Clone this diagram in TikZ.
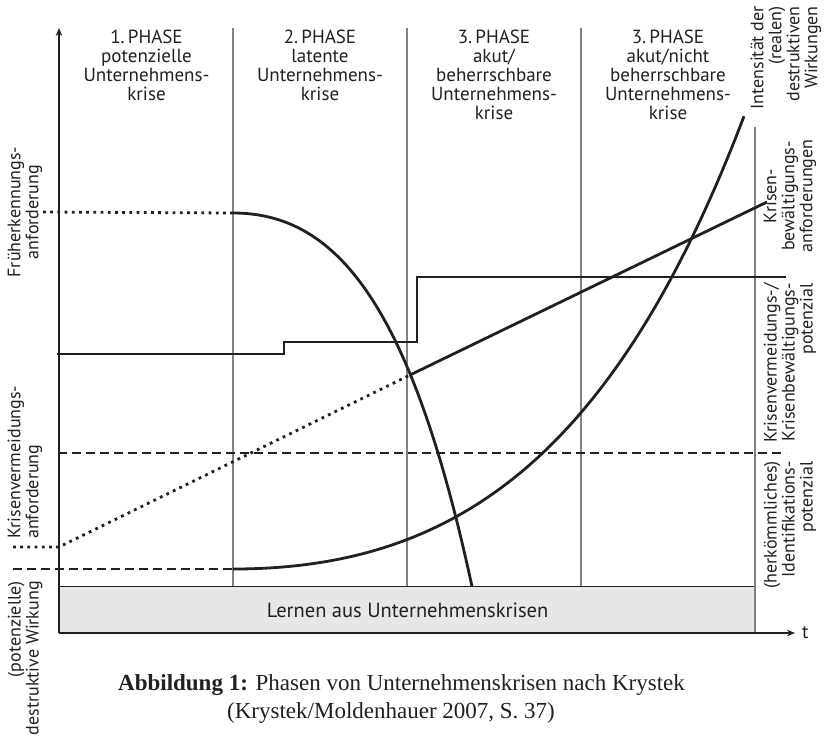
\documentclass[tikz,border=0pt]{standalone}
\usepackage{fontspec}
\setmainfont{PT Sans}
\newfontfamily\capfont{Liberation Serif}
\usetikzlibrary{arrows.meta}
\definecolor{ink}{HTML}{231F20}
\definecolor{phasegray}{HTML}{808285}
\definecolor{boxgray}{HTML}{E6E7E8}
\begin{document}
\begin{tikzpicture}[x=1pt,y=-1pt,
  every node/.style={text=ink, inner sep=0pt},
  lbl/.style={font=\fontsize{19}{19}\selectfont},
  rotlbl/.style={font=\fontsize{18}{18}\selectfont, rotate=90},
  axisline/.style={draw=ink, line width=1.4pt},
  phaseline/.style={draw=phasegray, line width=1.4pt},
  mainline/.style={draw=ink, line width=2.8pt},
  dotline/.style={draw=ink, line width=2.8pt, dash pattern=on 2.8pt off 4.4pt},
  dashline/.style={draw=ink, line width=2.8pt, dash pattern=on 9pt off 5pt},
  tip/.style={-{Stealth[length=8pt,width=6.5pt]}}
]
\useasboundingbox (0,0) rectangle (827,737);

% coordinates
\coordinate (O) at (59,633);
\coordinate (Ytop) at (59,28);
\coordinate (Xend) at (795,633);
\coordinate (P1t) at (233,28);  \coordinate (P1b) at (233,586);
\coordinate (P2t) at (407,28);  \coordinate (P2b) at (407,586);
\coordinate (P3t) at (581,28);  \coordinate (P3b) at (581,586);
\coordinate (P4t) at (755,127); \coordinate (P4b) at (755,633);

% grey box
\node[draw=ink, line width=1.2pt, fill=boxgray, minimum width=696pt, minimum height=47pt,
      anchor=north west, font=\fontsize{20.5}{20.5}\selectfont] (lern) at (59,586) {Lernen aus Unternehmenskrisen};

% phase lines
\draw[phaseline] (P1t) -- (P1b);
\draw[phaseline] (P2t) -- (P2b);
\draw[phaseline] (P3t) -- (P3b);
\draw[phaseline] (P4t) -- (P4b);

% axes
\draw[axisline, tip] (O) -- (Ytop);
\draw[axisline, tip] (O) -- (Xend);
\node[lbl, anchor=west] (t) at (802,633) {t};

% headers
\node[lbl, align=center, anchor=north] (h1) at (146.5,30) {1.\,PHASE\\potenzielle\\Unternehmens-\\krise};
\node[lbl, align=center, anchor=north] (h2) at (320,30) {2.\,PHASE\\latente\\Unternehmens-\\krise};
\node[lbl, align=center, anchor=north] (h3) at (494,30) {3.\,PHASE\\akut/\\beherrschbare\\Unternehmens-\\krise};
\node[lbl, align=center, anchor=north] (h4) at (668,30) {3.\,PHASE\\akut/nicht\\beherrschbare\\Unternehmens-\\krise};

% Früherkennungsanforderung: dotted then falling curve
\coordinate (F0) at (43,212);
\coordinate (F1) at (233,213);
\draw[dotline] (F0) -- (F1);
\draw[mainline] plot[domain=233:472, samples=120] (\x, {213+73.3*(exp(0.0088*(\x-233))-1-0.0088*(\x-233))});

% step line (Krisenvermeidungs-/Krisenbewältigungspotenzial)
\coordinate (S0) at (57,354);
\coordinate (S1) at (284,354);
\coordinate (S2) at (284,342);
\coordinate (S3) at (417,342);
\coordinate (S4) at (417,277);
\coordinate (S5) at (786,277);
\draw[mainline] (S0) -- (S1) -- (S2) -- (S3) -- (S4) -- (S5);

% dashed line (Identifikationspotenzial)
\coordinate (D0) at (58,453);
\coordinate (D1) at (786,453);
\draw[dashline] (D0) -- (D1);

% Krisenvermeidungs-/bewältigungsanforderung line
\coordinate (K0) at (13,547);
\coordinate (K1) at (59,547);
\coordinate (K2) at (410,375);
\coordinate (K3) at (767,202);
\draw[dotline] (K0) -- (K1) -- (K2);
\draw[mainline] (K2) -- (K3);

% destruktive Wirkung: dashed then rising curve
\coordinate (W0) at (13,569);
\coordinate (W1) at (233,569);
\draw[dashline] (W0) -- (W1);
\draw[mainline] plot[domain=233:744, samples=120] (\x, {569-89.7*(exp(0.0041*(\x-233))-1-0.0041*(\x-233))});

% left labels
\node[rotlbl, align=center, anchor=center] (lf) at (25,212) {Früherkennungs-\\anforderung};
\node[rotlbl, align=left, anchor=west] (lk) at (25,539) {Krisenvermeidungs-\\anforderung};
\node[rotlbl, align=right, anchor=east] (lw) at (25,581) {(potenzielle)\\destruktive Wirkung};

% right labels
\node[rotlbl, align=right, anchor=east] (ri) at (786,6) {Intensität der\\(realen)\\destruktiven\\Wirkungen};
\node[rotlbl, align=center, anchor=center] (rk) at (790,196) {Krisen-\\bewältigungs-\\anforderungen};
\node[rotlbl, align=right, anchor=east] (rv) at (790,283) {Krisenvermeidungs-/\\Krisenbewältigungs-\\potenzial};
\node[rotlbl, align=right, anchor=east] (rh) at (790,461) {(herkömmliches)\\Identifikations-\\potenzial};

% caption
\node[anchor=base west, font=\capfont\fontsize{23}{26}\selectfont] (c1) at (118,690) {\textbf{Abbildung 1:} Phasen von Unternehmenskrisen nach Krystek};
\node[anchor=base west, font=\capfont\fontsize{23}{26}\selectfont] (c2) at (227,718) {(Krystek/Moldenhauer 2007, S.~37)};
\end{tikzpicture}
\end{document}
